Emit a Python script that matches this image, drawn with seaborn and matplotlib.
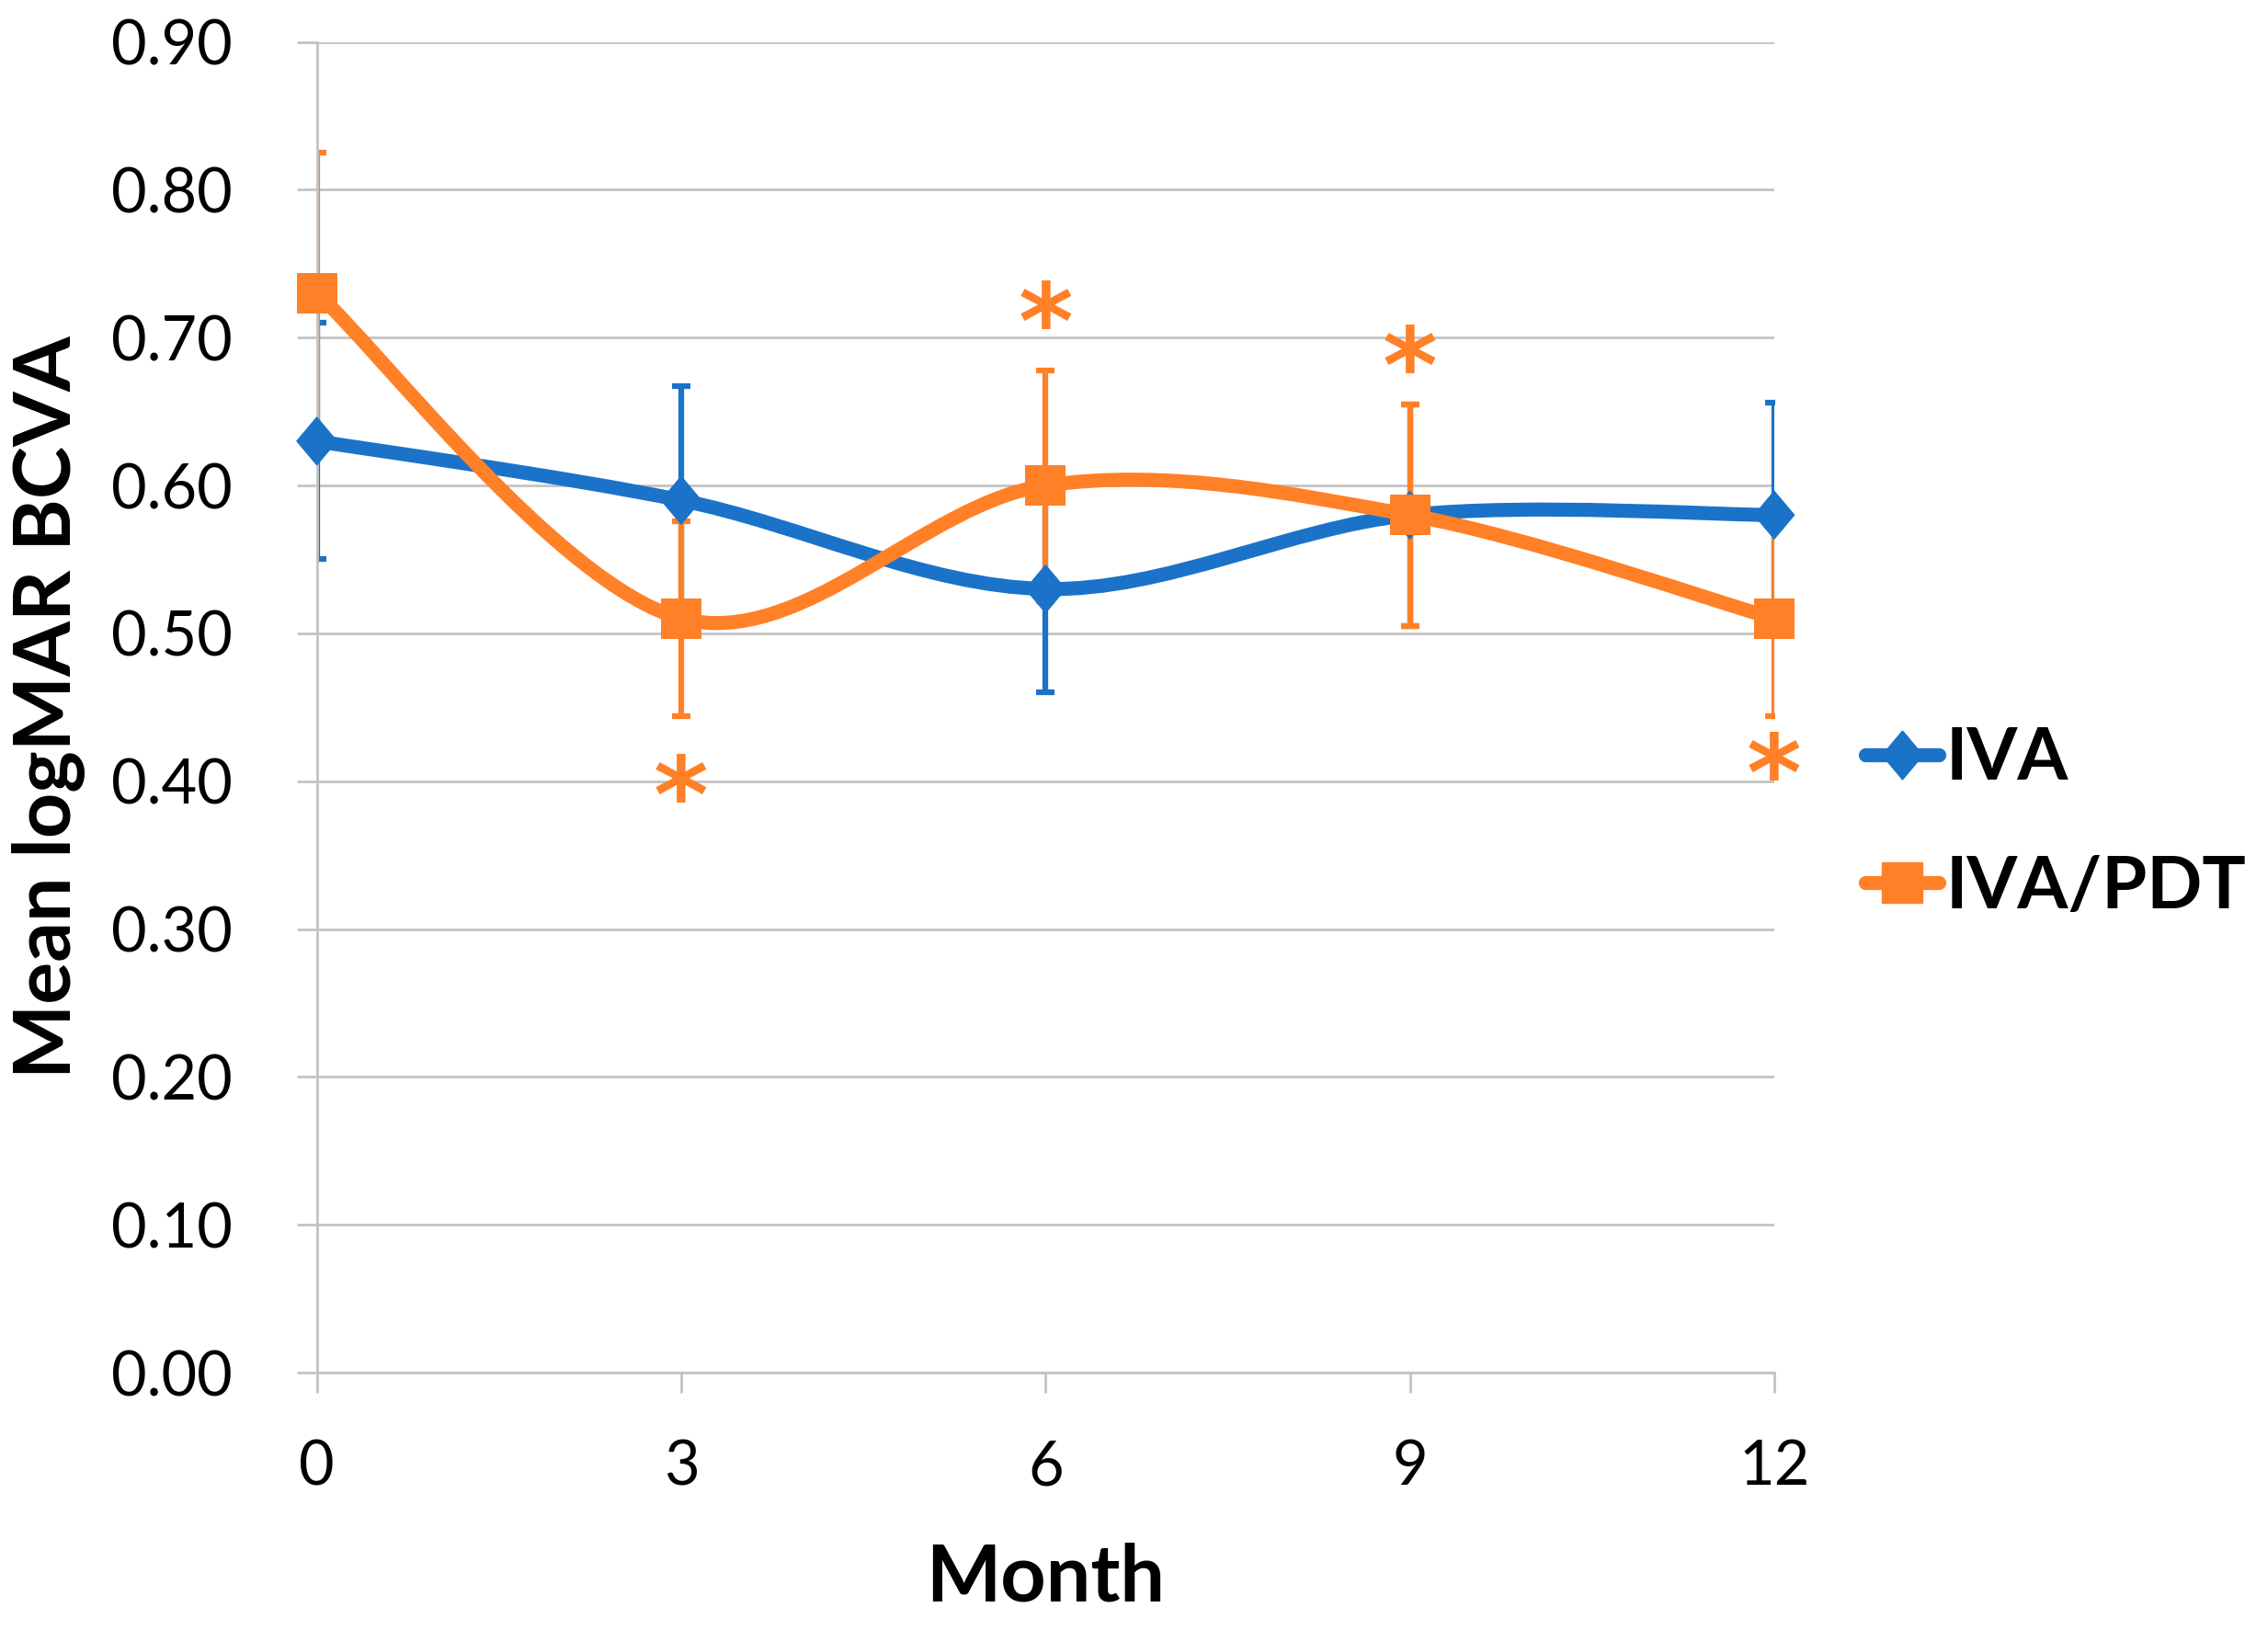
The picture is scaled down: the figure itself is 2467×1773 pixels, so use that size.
import numpy as np
import pandas as pd
import matplotlib.pyplot as plt
from matplotlib.path import Path
from matplotlib.patches import PathPatch
from matplotlib.lines import Line2D
import seaborn as sns

# data
months = [0, 3, 6, 9, 12]
iva_mean = [0.63, 0.59, 0.53, 0.58, 0.58]
iva_err = [0.080, 0.077, 0.070, 0.075, 0.076]
pdt_mean = [0.73, 0.51, 0.60, 0.58, 0.51]
pdt_err = [0.095, 0.066, 0.078, 0.075, 0.066]
star_months = [3, 6, 9, 12]
star_y = [0.40, 0.72, 0.69, 0.415]
yticks = [0.0, 0.1, 0.2, 0.3, 0.4, 0.5, 0.6, 0.7, 0.8, 0.9]
groups = ["IVA", "IVA/PDT"]

blue = "#1a73c8"
orange = "#ff8027"
grid_c = "#c3c3c3"

sns.set_style("white")
plt.rcParams["font.family"] = ["Lato", "DejaVu Sans"]
plt.rcParams["text.color"] = "black"
plt.rcParams["axes.labelcolor"] = "black"
plt.rcParams["xtick.labelcolor"] = "black"
plt.rcParams["ytick.labelcolor"] = "black"

df = pd.DataFrame({
    "Month": months + months,
    "BCVA": iva_mean + pdt_mean,
    "Group": [groups[0]] * len(months) + [groups[1]] * len(months),
})

# Excel-like smoothed line: bezier through the data points
def smooth_path(x, y):
    pts = np.column_stack([x, y]).astype(float)
    ext = np.vstack([pts[0], pts, pts[-1]])
    verts = [pts[0]]
    codes = [Path.MOVETO]
    for i in range(len(pts) - 1):
        p0, p1, p2, p3 = ext[i], ext[i + 1], ext[i + 2], ext[i + 3]
        verts += [p1 + (p2 - p0) / 6, p2 - (p3 - p1) / 6, p2]
        codes += [Path.CURVE4] * 3
    return Path(verts, codes)

diamond = [(0, 1), (0.84, 0), (0, -1), (-0.84, 0), (0, 1)]

fig = plt.figure(figsize=(24.67, 17.73), dpi=100)
ax = fig.add_axes([0.1397, 0.1579, 0.6426, 0.8164])

# error bars
ax.errorbar(months, iva_mean, yerr=iva_err, fmt="none", ecolor=blue,
            elinewidth=4.5, capsize=7.4, capthick=4.5, zorder=2)
ax.errorbar(months, pdt_mean, yerr=pdt_err, fmt="none", ecolor=orange,
            elinewidth=4.5, capsize=7.4, capthick=4.5, zorder=2.1)

# smoothed lines
ax.add_patch(PathPatch(smooth_path(months, iva_mean), facecolor="none", edgecolor=blue,
                       lw=11, capstyle="round", joinstyle="round", zorder=3))
ax.add_patch(PathPatch(smooth_path(months, pdt_mean), facecolor="none", edgecolor=orange,
                       lw=11, capstyle="round", joinstyle="round", zorder=3.1))

# markers
sns.scatterplot(data=df, x="Month", y="BCVA", hue="Group", style="Group",
                palette={groups[0]: blue, groups[1]: orange},
                markers={groups[0]: diamond, groups[1]: "s"},
                size="Group", sizes={groups[0]: 1500, groups[1]: 1000},
                linewidth=0, legend=False, ax=ax, zorder=5, clip_on=False)

# significance marks
for m, yv in zip(star_months, star_y):
    ax.annotate("*", (m, yv), xytext=(0, -17), textcoords="offset points",
                color=orange, fontsize=82, fontweight="bold",
                ha="center", va="center", family=["DejaVu Sans"], zorder=6)

ax.set_xlim(0, 12)
ax.set_ylim(0, 0.9)
ax.set_xticks(months)
ax.set_yticks(yticks)
ax.set_yticklabels([f"{v:.2f}" for v in yticks])
ax.yaxis.grid(True, color=grid_c, lw=2)
ax.xaxis.grid(False)
for s in ["top", "right"]:
    ax.spines[s].set_visible(False)
for s in ["left", "bottom"]:
    ax.spines[s].set_color(grid_c)
    ax.spines[s].set_linewidth(2)
ax.tick_params(axis="y", direction="out", length=16, width=2, color=grid_c,
               labelsize=48, pad=50, left=True)
ax.tick_params(axis="x", direction="out", length=16, width=2, color=grid_c,
               labelsize=48, pad=36, bottom=True)

ax.set_xlabel("Month", fontsize=62, fontweight="bold", labelpad=36)
ax.set_ylabel("Mean logMAR BCVA", fontsize=62, fontweight="bold", labelpad=20)

handles = [
    Line2D([], [], color=blue, lw=11, marker=diamond, markersize=38, solid_capstyle="round"),
    Line2D([], [], color=orange, lw=11, marker="s", markersize=31, solid_capstyle="round"),
]
fig.legend(handles, groups, loc="center left", bbox_to_anchor=(0.8226, 0.4946),
           frameon=False, borderaxespad=0, borderpad=0, handlelength=1.0,
           handletextpad=0.1, labelspacing=0.85,
           prop={"family": "Lato", "weight": "bold", "size": 57})

fig.savefig("out.png", dpi=100)
